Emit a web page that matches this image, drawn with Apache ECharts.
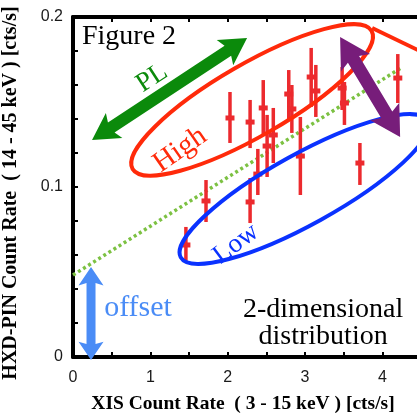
<!DOCTYPE html>
<html>
<head>
<meta charset="utf-8">
<script src="https://cdn.jsdelivr.net/npm/echarts@6/dist/echarts.min.js"></script>
<style>
  html, body { margin: 0; padding: 0; background: #fff; }
  #container { width: 417px; height: 417px; }
</style>
</head>
<body>
<div id="container"></div>
<script>
// XIS rate vs HXD-PIN rate, one point per observation
var xisRate = [1.46, 1.72, 2.03, 2.29, 2.29, 2.39, 2.46, 2.51, 2.59, 2.79, 2.83, 2.94, 3.08, 3.14, 3.48, 3.51, 3.71, 4.20];
var pinRate = [0.0659, 0.0918, 0.1406, 0.1382, 0.0912, 0.1076, 0.1465, 0.1241, 0.1306, 0.1547, 0.1459, 0.1182, 0.1647, 0.1565, 0.1582, 0.1494, 0.1141, 0.1641];
var pinLow  = [0.0553, 0.0794, 0.1259, 0.1229, 0.0788, 0.0953, 0.1300, 0.1059, 0.1141, 0.1394, 0.1318, 0.0953, 0.1471, 0.1412, 0.1453, 0.1365, 0.1012, 0.1494];
var pinHigh = [0.0765, 0.1041, 0.1559, 0.1512, 0.1053, 0.1224, 0.1629, 0.1424, 0.1465, 0.1688, 0.1600, 0.1412, 0.1818, 0.1718, 0.1706, 0.1618, 0.1259, 0.1782];

// linear relation (offset + slope)
var fitLine = [[0, 0.0482], [4.26, 0.1706]];

var serif = "'Liberation Serif', 'DejaVu Serif', serif";
var sans = "'Liberation Sans', Arial, sans-serif";

var dom = document.getElementById('container');
var myChart = echarts.init(dom, null, { renderer: 'canvas' });

var points = xisRate.map(function (x, i) {
  return [x, pinRate[i], pinLow[i], pinHigh[i]];
});

var option = {
  animation: false,
  grid: { left: 73, top: 17, bottom: 60, right: -4, containLabel: false, outerBoundsMode: 'none' },
  xAxis: [
    {
      type: 'value', min: 0, max: 4.5, interval: 0.5,
      name: 'XIS Count Rate  ( 3 - 15 keV ) [cts/s]',
      nameLocation: 'middle', nameGap: 37,
      nameTextStyle: { fontFamily: serif, fontWeight: 'bold', fontSize: 19.5, color: '#000', padding: [0, 8, 0, 0] },
      axisLine: { lineStyle: { color: '#000', width: 4 } },
      axisTick: { inside: true, length: 5, lineStyle: { color: '#000', width: 2 } },
      axisLabel: {
        margin: 13, fontFamily: sans, fontSize: 16, color: '#1a1a1a',
        formatter: function (v) { return Math.abs(v - Math.round(v)) < 1e-6 ? String(Math.round(v)) : ''; }
      },
      splitLine: { show: false }
    },
    {
      type: 'value', position: 'top', min: 0, max: 4.5, interval: 0.5,
      axisLine: { onZero: false, lineStyle: { color: '#000', width: 4 } },
      axisTick: { inside: true, length: 5, lineStyle: { color: '#000', width: 2 } },
      axisLabel: { show: false },
      splitLine: { show: false }
    }
  ],
  yAxis: {
    type: 'value', min: 0, max: 0.2, interval: 0.02,
    name: 'HXD-PIN Count Rate  ( 14 - 45 keV ) [cts/s]',
    nameLocation: 'middle', nameGap: 52, nameRotate: 90,
    nameTextStyle: { fontFamily: serif, fontWeight: 'bold', fontSize: 20, color: '#000', padding: [0, 12, 0, 0] },
    axisLine: { show: true, lineStyle: { color: '#000', width: 4 } },
    axisTick: { show: true, inside: true, length: 5, lineStyle: { color: '#000', width: 2 } },
    axisLabel: {
      margin: 10, fontFamily: sans, fontSize: 16, color: '#1a1a1a',
      formatter: function (v) {
        var t = v * 10;
        if (Math.abs(t - Math.round(t)) > 1e-6) return '';
        return v === 0 ? '0' : v.toFixed(1);
      }
    },
    splitLine: { show: false }
  },
  series: [
    {
      type: 'line',
      data: fitLine,
      symbol: 'none',
      z: 3,
      lineStyle: { color: '#7cc142', width: 3.5, type: [3, 3] }
    },
    {
      type: 'custom',
      data: points,
      z: 4,
      renderItem: function (params, api) {
        var c = api.coord([api.value(0), api.value(1)]);
        var lo = api.coord([api.value(0), api.value(2)]);
        var hi = api.coord([api.value(0), api.value(3)]);
        var red = '#ec2a2e';
        return {
          type: 'group',
          children: [
            { type: 'line', shape: { x1: c[0], y1: lo[1], x2: c[0], y2: hi[1] },
              style: { stroke: red, lineWidth: 3.5 } },
            { type: 'rect', shape: { x: c[0] - 4.5, y: c[1] - 2.5, width: 9, height: 5 },
              style: { fill: red } }
          ]
        };
      }
    }
  ]
};

myChart.setOption(option);

// annotations, anchored in data space
function toPx(p) { return myChart.convertToPixel({ gridIndex: 0 }, p); }

function arrow(a, b, shaftW, headL, headW, color) {
  var p0 = toPx(a), p1 = toPx(b);
  var dx = p1[0] - p0[0], dy = p1[1] - p0[1];
  var len = Math.sqrt(dx * dx + dy * dy);
  var ux = dx / len, uy = dy / len, nx = -uy, ny = ux;
  var b0 = [p0[0] + ux * headL, p0[1] + uy * headL];
  var b1 = [p1[0] - ux * headL, p1[1] - uy * headL];
  var s = shaftW / 2;
  function off(p, k, back) { return [p[0] + nx * k + ux * back, p[1] + ny * k + uy * back]; }
  var notch = headL * 0.15;
  return {
    type: 'polygon', z: 100,
    shape: { points: [
      p0, off(b0, headW, notch), off(b0, s, 0), off(b1, s, 0), off(b1, headW, -notch),
      p1, off(b1, -headW, -notch), off(b1, -s, 0), off(b0, -s, 0), off(b0, -headW, notch)
    ] },
    style: { fill: color }
  };
}

function ellipse(center, rx, ry, deg, color) {
  var c = toPx(center);
  return {
    type: 'ellipse', z: 100, x: c[0], y: c[1], rotation: deg * Math.PI / 180,
    shape: { cx: 0, cy: 0, rx: rx, ry: ry },
    style: { fill: 'none', stroke: color, lineWidth: 4 }
  };
}

function label(pos, text, size, color, deg, align) {
  var p = toPx(pos);
  return {
    type: 'text', z: 101, x: p[0], y: p[1], rotation: (deg || 0) * Math.PI / 180,
    style: {
      text: text, font: size + 'px ' + serif, fill: color,
      align: align || 'center', verticalAlign: 'middle',
      textAlign: align || 'center', textVerticalAlign: 'middle'
    }
  };
}

var red = '#ff2a0a', blue = '#0a32ff';
var p1 = toPx([3.868, 0.1935]), p2 = toPx([4.618, 0.1771]);

myChart.setOption({
  graphic: [
    ellipse([2.316, 0.1512], 138, 36, 30, red),
    { type: 'line', z: 100, shape: { x1: p1[0], y1: p1[1], x2: p2[0], y2: p2[1] },
      style: { stroke: red, lineWidth: 4 } },
    ellipse([2.988, 0.0988], 141, 35, 29, blue),
    arrow([0.246, 0.1276], [2.251, 0.1876], 12, 23, 15, '#0b8a0b'),
    arrow([3.454, 0.1882], [4.23, 0.1294], 13, 26, 17, '#771d7a'),
    arrow([0.233, 0.0529], [0.233, -0.0018], 9, 16, 12.5, '#4a8cf6'),
    label([0.116, 0.1882], 'Figure 2', 28, '#000', 0, 'left'),
    label([1.022, 0.1641], 'PL', 27, '#0b8a0b', 33),
    label([1.384, 0.1218], 'High', 29, red, 35),
    label([2.109, 0.0665], 'Low', 27, blue, 37),
    label([0.841, 0.0288], 'offset', 30, '#4a8cf6', 0),
    label([3.234, 0.0276], '2-dimensional', 28, '#000', 0),
    label([3.234, 0.0118], 'distribution', 28, '#000', 0)
  ]
});

window.addEventListener('resize', myChart.resize);
</script>
</body>
</html>
